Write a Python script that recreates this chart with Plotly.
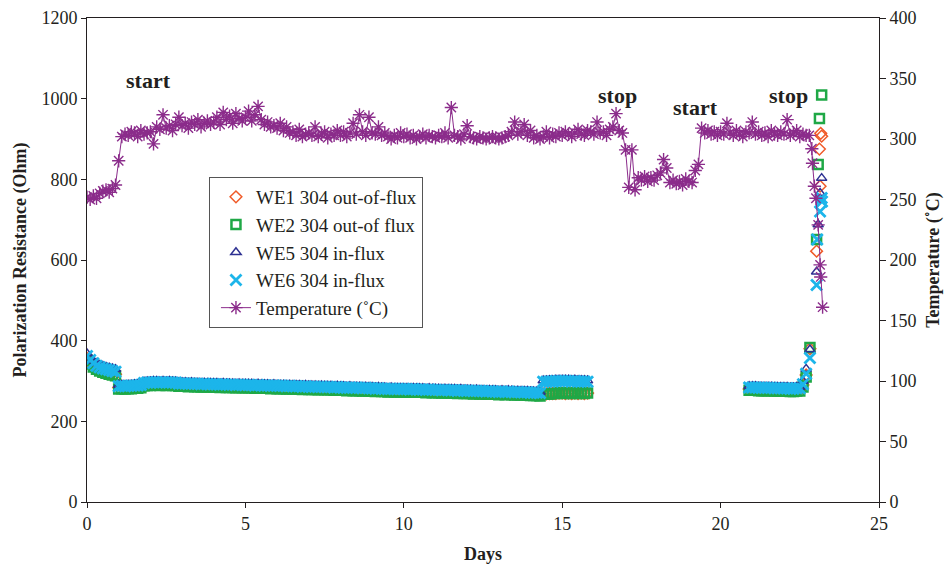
import numpy as np
import plotly.graph_objects as go

# ---------------- data ----------------
# Temperature (deg C) sampled every 0.1 day from 0.0 to 22.8, then the final drop
temp_rows = [
    [252, 250, 253, 251, 255, 257, 258, 256, 259, 262],   # day 0
    [282, 302, 304, 303, 306, 305, 302, 307, 304, 305],   # day 1
    [306, 296, 310, 308, 320, 309, 311, 307, 312, 318],   # day 2
    [311, 313, 309, 314, 312, 316, 310, 313, 315, 312],   # day 3
    [314, 318, 312, 322, 316, 319, 313, 321, 317, 315],   # day 4
    [318, 323, 315, 320, 327, 316, 312, 314, 310, 311],   # day 5
    [309, 313, 307, 310, 305, 306, 303, 308, 302, 304],   # day 6
    [305, 303, 310, 302, 304, 306, 301, 304, 303, 307],   # day 7
    [303, 306, 302, 305, 313, 304, 320, 306, 303, 318],   # day 8
    [305, 304, 310, 303, 305, 302, 300, 303, 301, 305],   # day 9
    [302, 304, 301, 303, 300, 302, 304, 301, 303, 302],   # day 10
    [301, 303, 302, 305, 301, 326, 303, 302, 300, 304],   # day 11
    [311, 302, 301, 300, 302, 301, 300, 301, 302, 301],   # day 12
    [300, 301, 302, 303, 306, 314, 304, 306, 312, 303],   # day 13
    [307, 301, 303, 300, 302, 306, 301, 304, 302, 305],   # day 14
    [303, 306, 304, 302, 305, 308, 304, 303, 307, 306],   # day 15
    [304, 314, 305, 306, 303, 308, 310, 321, 307, 305],   # day 16
    [291, 260, 291, 258, 268, 266, 269, 265, 268, 266],   # day 17
    [270, 272, 283, 276, 264, 266, 263, 265, 262, 267],   # day 18
    [265, 264, 274, 279, 309, 305, 307, 304, 306, 303],   # day 19
    [306, 304, 313, 305, 303, 307, 304, 302, 306, 305],   # day 20
    [314, 304, 306, 303, 305, 302, 307, 304, 303, 306],   # day 21
    [304, 316, 303, 305, 307, 302, 304, 303, 303],        # day 22.0-22.8
]
temp_days_tail = [22.88, 22.90, 22.96, 23.01, 23.08, 23.14, 23.16, 23.22]
temp_vals_tail = [292, 280, 261, 251, 229, 196, 186, 161]

# Polarization resistance (Ohm): days 0.0-0.9, 1.0-15.8 and 20.9-22.82
res_days_a = [0.0, 0.1, 0.2, 0.3, 0.4, 0.5, 0.6, 0.7, 0.8, 0.9]
res_days_b = list(np.round(np.arange(1.0, 15.81, 0.1), 1))
res_days_c = list(np.round(np.arange(20.9, 22.51, 0.1), 1)) + [22.6, 22.7, 22.82]

we1_a = [356, 346, 339, 333, 329, 326, 323, 321, 319, 317]
we1_b = [284, 285, 284, 285, 285, 286, 286, 287, 292, 293,
         293, 294, 294, 293, 294, 293, 294, 293, 293, 291,
         291, 291, 290, 291, 290, 290, 289, 290, 289, 289,
         289, 289, 288, 289, 288, 288, 288, 287, 288, 287,
         287, 287, 287, 286, 287, 286, 286, 286, 285, 286,
         285, 285, 285, 284, 285, 284, 284, 284, 283, 284,
         283, 283, 283, 282, 283, 282, 282, 282, 281, 282,
         281, 281, 280, 281, 280, 280, 280, 279, 280, 279,
         279, 278, 279, 278, 278, 277, 278, 277, 277, 277,
         277, 277, 276, 277, 276, 276, 276, 275, 276, 275,
         275, 275, 274, 275, 274, 274, 274, 273, 274, 273,
         273, 273, 272, 273, 272, 272, 271, 272, 271, 271,
         270, 271, 270, 271, 270, 269, 270, 269, 269, 269,
         268, 268, 268, 267, 268, 268, 269, 269, 269, 270,
         270, 269, 270, 269, 270, 269, 270, 269, 270]
we1_c = [280, 280, 280, 279, 279, 279, 279, 279, 278, 278, 278, 278, 278, 277, 277, 278, 278,
         290, 315, 380]

we2_a = [352, 342, 335, 329, 325, 322, 319, 317, 315, 313]
we2_b = [280, 281, 280, 281, 281, 282, 282, 283, 288, 289,
         289, 290, 290, 289, 290, 289, 290, 289, 289, 287,
         287, 287, 286, 287, 286, 286, 285, 286, 285, 285,
         285, 285, 284, 285, 284, 284, 284, 283, 284, 283,
         283, 283, 283, 282, 283, 282, 282, 282, 281, 282,
         281, 281, 281, 280, 281, 280, 280, 280, 279, 280,
         279, 279, 279, 278, 279, 278, 278, 278, 277, 278,
         277, 277, 276, 277, 276, 276, 276, 275, 276, 275,
         275, 274, 275, 274, 274, 273, 274, 273, 273, 273,
         273, 273, 272, 273, 272, 272, 272, 271, 272, 271,
         271, 271, 270, 271, 270, 270, 270, 269, 270, 269,
         269, 269, 268, 269, 268, 268, 267, 268, 267, 267,
         266, 267, 266, 267, 266, 265, 266, 265, 265, 265,
         264, 264, 264, 263, 267, 268, 268, 269, 269, 270,
         270, 269, 270, 269, 270, 269, 270, 269, 270]
we2_c = [277, 277, 277, 276, 276, 276, 276, 276, 275, 275, 275, 275, 275, 274, 274, 275, 275,
         285, 310, 383]

we5_a = [368, 358, 350, 344, 340, 337, 335, 333, 331, 329]
we5_b = [290, 291, 290, 291, 291, 292, 292, 293, 298, 299,
         299, 300, 300, 299, 300, 299, 300, 299, 299, 297,
         297, 297, 296, 297, 296, 296, 295, 296, 295, 295,
         295, 295, 294, 295, 294, 294, 294, 293, 294, 293,
         293, 293, 293, 292, 293, 292, 292, 292, 291, 292,
         291, 291, 291, 290, 291, 290, 290, 290, 289, 290,
         289, 289, 289, 288, 289, 288, 288, 288, 287, 288,
         287, 287, 286, 287, 286, 286, 286, 285, 286, 285,
         285, 284, 285, 284, 284, 283, 284, 283, 283, 283,
         283, 283, 282, 283, 282, 282, 282, 281, 282, 281,
         281, 281, 280, 281, 280, 280, 280, 279, 280, 279,
         279, 279, 278, 279, 278, 278, 277, 278, 277, 277,
         276, 277, 276, 277, 276, 275, 276, 275, 275, 275,
         274, 274, 274, 273, 301, 301, 302, 302, 303, 303,
         303, 303, 303, 302, 303, 302, 302, 302, 301]
we5_c = [287, 287, 287, 286, 286, 286, 286, 286, 285, 285, 285, 285, 285, 284, 284, 285, 285,
         300, 330, 378]

we6_a = [362, 352, 344, 338, 334, 331, 329, 327, 325, 323]
we6_b = [287, 288, 287, 288, 288, 289, 289, 290, 295, 296,
         296, 297, 297, 296, 297, 296, 297, 296, 296, 294,
         294, 294, 293, 294, 293, 293, 292, 293, 292, 292,
         292, 292, 291, 292, 291, 291, 291, 290, 291, 290,
         290, 290, 290, 289, 290, 289, 289, 289, 288, 289,
         288, 288, 288, 287, 288, 287, 287, 287, 286, 287,
         286, 286, 286, 285, 286, 285, 285, 285, 284, 285,
         284, 284, 283, 284, 283, 283, 283, 282, 283, 282,
         282, 281, 282, 281, 281, 280, 281, 280, 280, 280,
         280, 280, 279, 280, 279, 279, 279, 278, 279, 278,
         278, 278, 277, 278, 277, 277, 277, 276, 277, 276,
         276, 276, 275, 276, 275, 275, 274, 275, 274, 274,
         273, 274, 273, 274, 273, 272, 273, 272, 272, 272,
         271, 271, 271, 270, 298, 298, 299, 299, 300, 300,
         300, 300, 300, 299, 300, 299, 299, 299, 298]
we6_c = [284, 284, 284, 283, 283, 283, 283, 283, 282, 282, 282, 282, 282, 281, 281, 282, 282,
         292, 318, 357]

# final excursion after the stop
we1_end_days = [23.03, 23.12, 23.14, 23.16, 23.19]
we1_end_vals = [622, 875, 783, 914, 907]
we2_end_days = [23.03, 23.08, 23.12, 23.19]
we2_end_vals = [651, 837, 951, 1009]
we5_end_days = [23.03, 23.08, 23.14, 23.19]
we5_end_vals = [571, 688, 766, 803]
we6_end_days = [23.03, 23.05, 23.14, 23.19, 23.20]
we6_end_vals = [538, 651, 720, 754, 745]

event_labels = ["start", "stop", "start", "stop"]
event_days = [1.93, 16.73, 19.22, 22.13]
event_ohm = [1045, 1009, 979, 1009]

# ---------------- figure ----------------
temp_vals = [v for row in temp_rows for v in row]
temp_days = list(np.round(np.arange(0, len(temp_vals)) * 0.1, 1)) + temp_days_tail
temp_vals = temp_vals + temp_vals_tail
res_days = res_days_a + res_days_b + res_days_c

FONT = "Liberation Serif"
INK = "#231F20"
C1, C2, C5, C6, CT = "#F05A28", "#1FA846", "#2E3192", "#1CB5EA", "#8B2C8B"

fig = go.Figure()


def res_trace(name, days, vals, sym, color, size, lw, group):
    return go.Scatter(x=days, y=vals, mode="markers", name=name, legendgroup=group,
                      marker=dict(symbol=sym, size=size, color=color,
                                  line=dict(width=lw, color=color)))


fig.add_trace(res_trace("WE1 304 out-of-flux", res_days + we1_end_days,
                        we1_a + we1_b + we1_c + we1_end_vals, "diamond-open", C1, 9, 1.5, "g1"))
fig.add_trace(res_trace("WE2 304 out-of flux", res_days + we2_end_days,
                        we2_a + we2_b + we2_c + we2_end_vals, "square-open", C2, 9, 2.5, "g2"))
fig.add_trace(res_trace("WE5 304 in-flux", res_days + we5_end_days,
                        we5_a + we5_b + we5_c + we5_end_vals, "triangle-up-open", C5, 9, 1.5, "g3"))
fig.add_trace(res_trace("WE6 304 in-flux", res_days + we6_end_days,
                        we6_a + we6_b + we6_c + we6_end_vals, "x-thin-open", C6, 11, 2.8, "g4"))
fig.add_trace(go.Scatter(x=temp_days, y=temp_vals, mode="lines+markers", name="Temperature (˚C)",
                         legendgroup="g5", yaxis="y2",
                         line=dict(color=CT, width=1),
                         marker=dict(symbol="asterisk-open", size=11, color=CT,
                                     line=dict(width=1.4, color=CT))))

for lab, d, o in zip(event_labels, event_days, event_ohm):
    fig.add_annotation(x=d, y=o, xref="x", yref="y", text="<b>%s</b>" % lab, showarrow=False,
                       font=dict(family=FONT, size=22, color=INK))

axis_common = dict(showgrid=False, zeroline=False, linecolor=INK, linewidth=1, automargin=False,
                   tickcolor=INK, tickfont=dict(family=FONT, size=18, color=INK))

fig.update_layout(
    width=952, height=568,
    margin=dict(l=87, r=73, t=18, b=66, autoexpand=False),
    paper_bgcolor="white", plot_bgcolor="white",
    font=dict(family=FONT, size=18, color=INK),
    xaxis=dict(range=[0, 25], tickvals=[0, 5, 10, 15, 20, 25], ticks="outside", ticklen=5,
               showline=True, mirror=True,
               title=dict(text="<b>Days</b>", font=dict(family=FONT, size=18, color=INK), standoff=14),
               **axis_common),
    yaxis=dict(range=[0, 1200], dtick=200, ticks="outside", ticklen=5, showline=True,
               title=dict(text="<b>Polarization Resistance (Ohm)</b>",
                          font=dict(family=FONT, size=18, color=INK), standoff=10),
               **axis_common),
    yaxis2=dict(range=[0, 400], dtick=50, overlaying="y", side="right", ticks="outside", ticklen=6,
                showline=True,
                title=dict(text="<b>Temperature (˚C)</b>",
                           font=dict(family=FONT, size=18, color=INK), standoff=10),
                **axis_common),
    yaxis3=dict(range=[0, 1200], dtick=200, overlaying="y", side="left", ticks="inside", ticklen=5,
                showticklabels=False, showline=False, showgrid=False, zeroline=False, tickcolor=INK,
                automargin=False),
    yaxis4=dict(range=[0, 400], dtick=50, overlaying="y", side="right", ticks="inside", ticklen=6,
                showticklabels=False, showline=False, showgrid=False, zeroline=False, tickcolor=INK,
                automargin=False),
    legend=dict(x=0.154, y=0.6715, xanchor="left", yanchor="top", bgcolor="white",
                bordercolor="#555555", borderwidth=1, traceorder="grouped", tracegroupgap=0,
                indentation=6, font=dict(family=FONT, size=19, color=INK)),
    showlegend=True,
)

fig.write_html("out.html")
